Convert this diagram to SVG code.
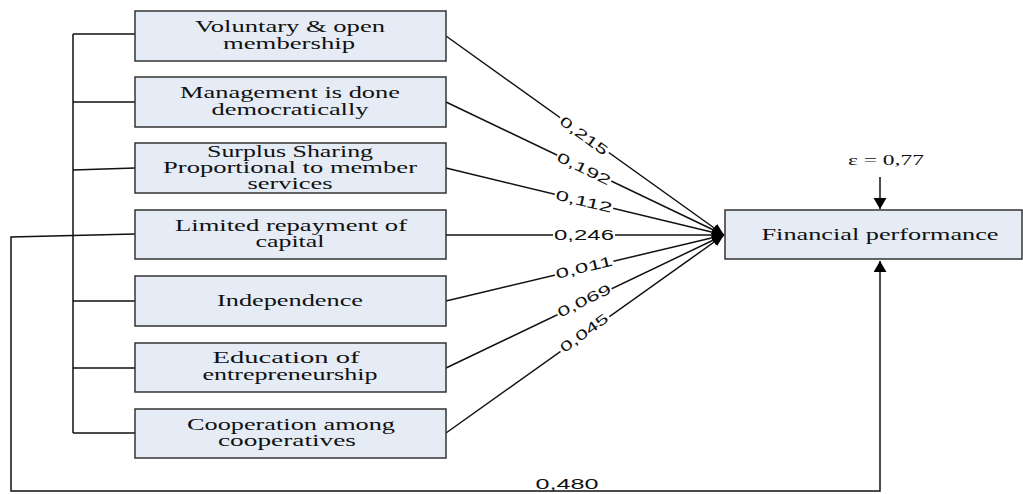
<svg xmlns="http://www.w3.org/2000/svg" width="1023" height="494" viewBox="0 0 1023 494">
<style>
.box{fill:#e5ecf6;stroke:#333;stroke-width:1.5}
.bt{font-family:'Liberation Serif','Times New Roman',serif;font-size:16px;fill:#111;text-anchor:middle}
.ln{fill:none;stroke:#111;stroke-width:1.5}
.lb{font-family:'Liberation Sans',Arial,sans-serif;font-size:14px;fill:#111;text-anchor:middle}
.bg{fill:#fff}
</style>
<defs>
<marker id="ah" markerUnits="userSpaceOnUse" markerWidth="14" markerHeight="12" refX="12" refY="5" orient="auto"><path d="M0,0 L12,5 L0,10 z" fill="#000"/></marker>
<marker id="av" markerUnits="userSpaceOnUse" markerWidth="14" markerHeight="14" refX="11" refY="6.5" orient="auto"><path d="M0,0 L11,6.5 L0,13 z" fill="#000"/></marker>
</defs>
<g id="connectors">
<path class="ln" d="M73,34 V433 M73,34 H135 M73,102 H135 M73,170 L135,168 M73,301 H135 M73,368 H135 M73,433 H135"/>
<path class="ln" d="M135,234 L11,237 V491 H880 V261" marker-end="url(#av)"/>
<path class="ln" d="M880,177 V209" marker-end="url(#av)"/>
<line class="ln" x1="446" y1="36" x2="724" y2="235" marker-end="url(#ah)"/>
<line class="ln" x1="446" y1="102" x2="724" y2="235" marker-end="url(#ah)"/>
<line class="ln" x1="446" y1="168" x2="724" y2="235" marker-end="url(#ah)"/>
<line class="ln" x1="446" y1="235" x2="724" y2="235" marker-end="url(#ah)"/>
<line class="ln" x1="446" y1="301" x2="724" y2="235" marker-end="url(#ah)"/>
<line class="ln" x1="446" y1="368" x2="724" y2="235" marker-end="url(#ah)"/>
<line class="ln" x1="446" y1="433" x2="724" y2="235" marker-end="url(#ah)"/>
<g transform="translate(584,135.7) rotate(35.85)"><rect class="bg" x="-30" y="-7" width="60" height="13"/><text class="lb" x="0" y="5" textLength="56" lengthAdjust="spacingAndGlyphs">0,215</text></g>
<g transform="translate(584,168.5) rotate(25.7)"><rect class="bg" x="-30" y="-7" width="60" height="13"/><text class="lb" x="0" y="5" textLength="58" lengthAdjust="spacingAndGlyphs">0,192</text></g>
<g transform="translate(584,201.2) rotate(13.5)"><rect class="bg" x="-30" y="-7" width="60" height="13"/><text class="lb" x="0" y="5" textLength="58" lengthAdjust="spacingAndGlyphs">0,112</text></g>
<g transform="translate(584,235)"><rect class="bg" x="-31" y="-7" width="62" height="13"/><text class="lb" x="0" y="5" textLength="60" lengthAdjust="spacingAndGlyphs">0,246</text></g>
<g transform="translate(584,267.3) rotate(-13.7)"><rect class="bg" x="-30" y="-7" width="60" height="13"/><text class="lb" x="0" y="5" textLength="58" lengthAdjust="spacingAndGlyphs">0,011</text></g>
<g transform="translate(584,300.5) rotate(-26.1)"><rect class="bg" x="-30" y="-7" width="60" height="13"/><text class="lb" x="0" y="5" textLength="58" lengthAdjust="spacingAndGlyphs">0,069</text></g>
<g transform="translate(584,332.8) rotate(-36)"><rect class="bg" x="-30" y="-7" width="60" height="13"/><text class="lb" x="0" y="5" textLength="56" lengthAdjust="spacingAndGlyphs">0,045</text></g>
<text class="lb" x="567" y="489" textLength="63" lengthAdjust="spacingAndGlyphs">0,480</text>
<text class="bt" x="886" y="165" style="font-size:15px" textLength="76" lengthAdjust="spacingAndGlyphs">ε = 0,77</text>
</g>
<g id="n1"><rect class="box" x="135" y="11" width="311" height="50"/><text class="bt" x="290" y="32" textLength="190" lengthAdjust="spacingAndGlyphs">Voluntary &amp; open</text><text class="bt" x="289" y="49" textLength="132" lengthAdjust="spacingAndGlyphs">membership</text></g>
<g id="n2"><rect class="box" x="135" y="77" width="311" height="50"/><text class="bt" x="290" y="98" textLength="220" lengthAdjust="spacingAndGlyphs">Management is done</text><text class="bt" x="290" y="115" textLength="157" lengthAdjust="spacingAndGlyphs">democratically</text></g>
<g id="n3"><rect class="box" x="135" y="143" width="311" height="50"/><text class="bt" x="290" y="157" textLength="166" lengthAdjust="spacingAndGlyphs">Surplus Sharing</text><text class="bt" x="290" y="173" textLength="254" lengthAdjust="spacingAndGlyphs">Proportional to member</text><text class="bt" x="290" y="189" textLength="85" lengthAdjust="spacingAndGlyphs">services</text></g>
<g id="n4"><rect class="box" x="135" y="210" width="311" height="49"/><text class="bt" x="291" y="231" textLength="232" lengthAdjust="spacingAndGlyphs">Limited repayment of</text><text class="bt" x="290" y="247" textLength="69" lengthAdjust="spacingAndGlyphs">capital</text></g>
<g id="n5"><rect class="box" x="135" y="276" width="311" height="50"/><text class="bt" x="290" y="306" textLength="146" lengthAdjust="spacingAndGlyphs">Independence</text></g>
<g id="n6"><rect class="box" x="135" y="343" width="311" height="49"/><text class="bt" x="286" y="363" textLength="147" lengthAdjust="spacingAndGlyphs">Education of</text><text class="bt" x="290" y="380" textLength="175" lengthAdjust="spacingAndGlyphs">entrepreneurship</text></g>
<g id="n7"><rect class="box" x="135" y="409" width="311" height="49"/><text class="bt" x="291" y="430" textLength="208" lengthAdjust="spacingAndGlyphs">Cooperation among</text><text class="bt" x="287" y="446" textLength="138" lengthAdjust="spacingAndGlyphs">cooperatives</text></g>
<g id="n8"><rect class="box" x="725" y="210" width="297" height="49"/><text class="bt" x="880" y="240" textLength="237" lengthAdjust="spacingAndGlyphs">Financial performance</text></g>
</svg>
